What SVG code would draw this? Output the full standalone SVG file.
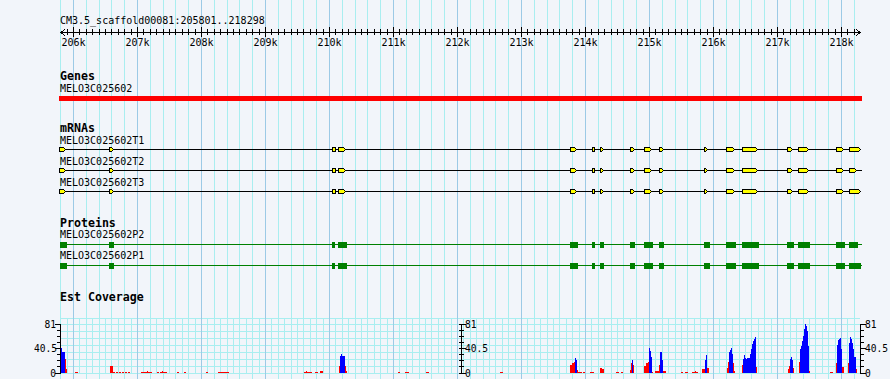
<svg xmlns="http://www.w3.org/2000/svg" width="890" height="379" viewBox="0 0 890 379">
<style>
.gmin{stroke:#a9eef0;stroke-width:1;fill:none;shape-rendering:crispEdges}
.gmaj{stroke:#9ccae6;stroke-width:1;fill:none;shape-rendering:crispEdges}
.ink{stroke:#000;stroke-width:1;fill:none;shape-rendering:crispEdges}
.t{font-family:"DejaVu Sans Mono","Liberation Mono",monospace;font-size:10px;fill:#000}
.h{font-family:"DejaVu Sans Mono","Liberation Mono",monospace;font-size:11.6px;font-weight:bold;fill:#000}
.ax{font-family:"DejaVu Sans Mono","Liberation Mono",monospace;font-size:9.6px;fill:#000}
.exon{fill:#ffff00;stroke:#000;stroke-width:1;shape-rendering:crispEdges}
.tline{stroke:#000;stroke-width:1;shape-rendering:crispEdges}
.pline{stroke:#008000;stroke-width:1;shape-rendering:crispEdges}
.cds{fill:#008000;shape-rendering:crispEdges}
.red{fill:#ff0000;shape-rendering:crispEdges}
.blue{fill:#0000ff;shape-rendering:crispEdges}
</style>
<rect width="890" height="379" fill="#f2f5fa"/>
<g id="grid">
<path class="gmin" d="M60.5 0V379M86.5 0V379M99.5 0V379M111.5 0V379M124.5 0V379M150.5 0V379M163.5 0V379M175.5 0V379M188.5 0V379M214.5 0V379M227.5 0V379M239.5 0V379M252.5 0V379M278.5 0V379M291.5 0V379M303.5 0V379M316.5 0V379M342.5 0V379M355.5 0V379M367.5 0V379M380.5 0V379M406.5 0V379M419.5 0V379M431.5 0V379M444.5 0V379M470.5 0V379M483.5 0V379M495.5 0V379M508.5 0V379M534.5 0V379M547.5 0V379M559.5 0V379M572.5 0V379M598.5 0V379M611.5 0V379M623.5 0V379M636.5 0V379M662.5 0V379M675.5 0V379M687.5 0V379M700.5 0V379M726.5 0V379M739.5 0V379M751.5 0V379M764.5 0V379M790.5 0V379M803.5 0V379M815.5 0V379M828.5 0V379M854.5 0V379"/>
<path class="gmin" d="M67.5 318V373M79.5 318V373M92.5 318V373M105.5 318V373M118.5 318V373M131.5 318V373M143.5 318V373M156.5 318V373M169.5 318V373M182.5 318V373M195.5 318V373M207.5 318V373M220.5 318V373M233.5 318V373M246.5 318V373M259.5 318V373M271.5 318V373M284.5 318V373M297.5 318V373M310.5 318V373M323.5 318V373M335.5 318V373M348.5 318V373M361.5 318V373M374.5 318V373M387.5 318V373M399.5 318V373M412.5 318V373M425.5 318V373M438.5 318V373M451.5 318V373M463.5 318V373M476.5 318V373M489.5 318V373M502.5 318V373M515.5 318V373M527.5 318V373M540.5 318V373M553.5 318V373M566.5 318V373M579.5 318V373M591.5 318V373M604.5 318V373M617.5 318V373M630.5 318V373M643.5 318V373M655.5 318V373M668.5 318V373M681.5 318V373M694.5 318V373M707.5 318V373M719.5 318V373M732.5 318V373M745.5 318V373M758.5 318V373M771.5 318V373M783.5 318V373M796.5 318V373M809.5 318V373M822.5 318V373M835.5 318V373M847.5 318V373"/>
<path class="gmin" d="M60 318.5H860M60 324.5H860M60 331.5H860M60 338.5H860M60 345.5H860M60 352.5H860M60 359.5H860M60 366.5H860M60 373.5H860"/>
<path class="gmaj" d="M73.5 0V379M137.5 0V379M201.5 0V379M265.5 0V379M329.5 0V379M393.5 0V379M457.5 0V379M521.5 0V379M585.5 0V379M649.5 0V379M713.5 0V379M777.5 0V379M841.5 0V379"/>
</g>
<g id="ruler">
<text class="t" x="60" y="24">CM3.5_scaffold00081:205801..218298</text>
<path class="ink" d="M60 32.5H860M65 29.5L60.5 32.5L65 35.5M856 29.5L860.5 32.5L856 35.5"/>
<path class="ink" d="M67.5 29v6M73.5 29v6M79.5 29v6M86.5 29v6M92.5 29v6M99.5 29v6M105.5 29v6M111.5 29v6M118.5 29v6M124.5 29v6M131.5 29v6M137.5 29v6M143.5 29v6M150.5 29v6M156.5 29v6M163.5 29v6M169.5 29v6M175.5 29v6M182.5 29v6M188.5 29v6M195.5 29v6M201.5 29v6M207.5 29v6M214.5 29v6M220.5 29v6M227.5 29v6M233.5 29v6M239.5 29v6M246.5 29v6M252.5 29v6M259.5 29v6M265.5 29v6M271.5 29v6M278.5 29v6M284.5 29v6M291.5 29v6M297.5 29v6M303.5 29v6M310.5 29v6M316.5 29v6M323.5 29v6M329.5 29v6M335.5 29v6M342.5 29v6M348.5 29v6M355.5 29v6M361.5 29v6M367.5 29v6M374.5 29v6M380.5 29v6M387.5 29v6M393.5 29v6M399.5 29v6M406.5 29v6M412.5 29v6M419.5 29v6M425.5 29v6M431.5 29v6M438.5 29v6M444.5 29v6M451.5 29v6M457.5 29v6M463.5 29v6M470.5 29v6M476.5 29v6M483.5 29v6M489.5 29v6M495.5 29v6M502.5 29v6M508.5 29v6M515.5 29v6M521.5 29v6M527.5 29v6M534.5 29v6M540.5 29v6M547.5 29v6M553.5 29v6M559.5 29v6M566.5 29v6M572.5 29v6M579.5 29v6M585.5 29v6M591.5 29v6M598.5 29v6M604.5 29v6M611.5 29v6M617.5 29v6M623.5 29v6M630.5 29v6M636.5 29v6M643.5 29v6M649.5 29v6M655.5 29v6M662.5 29v6M668.5 29v6M675.5 29v6M681.5 29v6M687.5 29v6M694.5 29v6M700.5 29v6M707.5 29v6M713.5 29v6M719.5 29v6M726.5 29v6M732.5 29v6M739.5 29v6M745.5 29v6M751.5 29v6M758.5 29v6M764.5 29v6M771.5 29v6M777.5 29v6M783.5 29v6M790.5 29v6M796.5 29v6M803.5 29v6M809.5 29v6M815.5 29v6M822.5 29v6M828.5 29v6M835.5 29v6M841.5 29v6M847.5 29v6M854.5 29v6"/>
<path class="ink" d="M73.5 27v10M137.5 27v10M201.5 27v10M265.5 27v10M329.5 27v10M393.5 27v10M457.5 27v10M521.5 27v10M585.5 27v10M649.5 27v10M713.5 27v10M777.5 27v10M841.5 27v10"/>
<g class="t" text-anchor="middle">
<text x="73.5" y="46">206k</text><text x="137.5" y="46">207k</text><text x="201.5" y="46">208k</text><text x="265.5" y="46">209k</text><text x="329.5" y="46">210k</text><text x="393.5" y="46">211k</text><text x="457.5" y="46">212k</text><text x="521.5" y="46">213k</text><text x="585.5" y="46">214k</text><text x="649.5" y="46">215k</text><text x="713.5" y="46">216k</text><text x="777.5" y="46">217k</text><text x="841.5" y="46">218k</text>
</g>
</g>
<g id="genes">
<text class="h" x="60" y="80">Genes</text>
<text class="t" x="60" y="92.3">MELO3C025602</text>
<rect x="59" y="96" width="803" height="5" fill="#ff0000"/>
</g>
<text class="h" x="60" y="132.3">mRNAs</text>
<g id="T1">
<text class="t" x="60" y="144.3">MELO3C025602T1</text>
<line class="tline" x1="59" y1="149.5" x2="861" y2="149.5"/>
<path class="exon" d="M59.5 147.5H63.5L65.5 149.5L63.5 151.5H59.5ZM109.5 147.5H111.5L113.5 149.5L111.5 151.5H109.5ZM332.5 147.5H335.5V151.5H332.5ZM338.5 147.5H343.5L345.5 149.5L343.5 151.5H338.5ZM570.5 147.5H574.5L576.5 149.5L574.5 151.5H570.5ZM592.5 147.5H594.5V151.5H592.5ZM600.5 147.5H601.5L603.5 149.5L601.5 151.5H600.5ZM630.5 147.5H632.5L634.5 149.5L632.5 151.5H630.5ZM644.5 147.5H649.5L651.5 149.5L649.5 151.5H644.5ZM659.5 147.5H661.5L663.5 149.5L661.5 151.5H659.5ZM704.5 147.5H705.5L707.5 149.5L705.5 151.5H704.5ZM726.5 147.5H732.5L734.5 149.5L732.5 151.5H726.5ZM742.5 147.5H755.5L757.5 149.5L755.5 151.5H742.5ZM787.5 147.5H790.5L792.5 149.5L790.5 151.5H787.5ZM798.5 147.5H806.5L808.5 149.5L806.5 151.5H798.5ZM836.5 147.5H841.5L843.5 149.5L841.5 151.5H836.5ZM849.5 147.5H858.5L860.5 149.5L858.5 151.5H849.5Z"/>
</g>
<g id="T2" transform="translate(0,21)">
<text class="t" x="60" y="144">MELO3C025602T2</text>
<line class="tline" x1="59" y1="149.5" x2="862" y2="149.5"/>
<path class="exon" d="M59.5 147.5H63.5L65.5 149.5L63.5 151.5H59.5ZM109.5 147.5H111.5L113.5 149.5L111.5 151.5H109.5ZM332.5 147.5H335.5V151.5H332.5ZM338.5 147.5H343.5L345.5 149.5L343.5 151.5H338.5ZM570.5 147.5H574.5L576.5 149.5L574.5 151.5H570.5ZM592.5 147.5H594.5V151.5H592.5ZM600.5 147.5H601.5L603.5 149.5L601.5 151.5H600.5ZM630.5 147.5H632.5L634.5 149.5L632.5 151.5H630.5ZM644.5 147.5H649.5L651.5 149.5L649.5 151.5H644.5ZM659.5 147.5H661.5L663.5 149.5L661.5 151.5H659.5ZM704.5 147.5H705.5L707.5 149.5L705.5 151.5H704.5ZM726.5 147.5H732.5L734.5 149.5L732.5 151.5H726.5ZM742.5 147.5H755.5L757.5 149.5L755.5 151.5H742.5ZM787.5 147.5H790.5L792.5 149.5L790.5 151.5H787.5ZM798.5 147.5H806.5L808.5 149.5L806.5 151.5H798.5ZM836.5 147.5H841.5L843.5 149.5L841.5 151.5H836.5ZM849.5 147.5H854.5L856.5 149.5L854.5 151.5H849.5Z"/>
</g>
<g id="T3" transform="translate(0,42)">
<text class="t" x="60" y="144">MELO3C025602T3</text>
<line class="tline" x1="59" y1="149.5" x2="861" y2="149.5"/>
<path class="exon" d="M59.5 147.5H63.5L65.5 149.5L63.5 151.5H59.5ZM109.5 147.5H111.5L113.5 149.5L111.5 151.5H109.5ZM332.5 147.5H335.5V151.5H332.5ZM338.5 147.5H343.5L345.5 149.5L343.5 151.5H338.5ZM570.5 147.5H574.5L576.5 149.5L574.5 151.5H570.5ZM592.5 147.5H594.5V151.5H592.5ZM600.5 147.5H601.5L603.5 149.5L601.5 151.5H600.5ZM630.5 147.5H632.5L634.5 149.5L632.5 151.5H630.5ZM644.5 147.5H649.5L651.5 149.5L649.5 151.5H644.5ZM659.5 147.5H661.5L663.5 149.5L661.5 151.5H659.5ZM704.5 147.5H705.5L707.5 149.5L705.5 151.5H704.5ZM726.5 147.5H732.5L734.5 149.5L732.5 151.5H726.5ZM742.5 147.5H755.5L757.5 149.5L755.5 151.5H742.5ZM787.5 147.5H790.5L792.5 149.5L790.5 151.5H787.5ZM798.5 147.5H806.5L808.5 149.5L806.5 151.5H798.5ZM836.5 147.5H841.5L843.5 149.5L841.5 151.5H836.5ZM849.5 147.5H858.5L860.5 149.5L858.5 151.5H849.5Z"/>
</g>
<text class="h" x="60" y="226.7">Proteins</text>
<g id="P2">
<text class="t" x="60" y="238.3">MELO3C025602P2</text>
<line class="pline" x1="60" y1="244.5" x2="862" y2="244.5"/>
<path class="cds" d="M60 242h7v6h-7zM109 242h5v6h-5zM332 242h3v6h-3zM338 242h9v6h-9zM570 242h8v6h-8zM592 242h3v6h-3zM600 242h4v6h-4zM630 242h5v6h-5zM644 242h9v6h-9zM659 242h5v6h-5zM704 242h6v6h-6zM726 242h10v6h-10zM742 242h17v6h-17zM787 242h7v6h-7zM798 242h12v6h-12zM836 242h9v6h-9zM849 242h9v6h-9z"/>
</g>
<g id="P1">
<text class="t" x="60" y="259.3">MELO3C025602P1</text>
<line class="pline" x1="60" y1="265.5" x2="862" y2="265.5"/>
<path class="cds" d="M60 263h7v6h-7zM109 263h5v6h-5zM332 263h3v6h-3zM338 263h9v6h-9zM570 263h8v6h-8zM592 263h3v6h-3zM600 263h4v6h-4zM630 263h5v6h-5zM644 263h9v6h-9zM659 263h5v6h-5zM704 263h6v6h-6zM726 263h10v6h-10zM742 263h17v6h-17zM787 263h7v6h-7zM798 263h12v6h-12zM836 263h9v6h-9zM849 263h12v6h-12z"/>
</g>
<g id="coverage">
<text class="h" x="60" y="300.5">Est Coverage</text>
<path class="red" d="M65 359h1v14h-1zM66 369h1v4h-1zM75 372h3v1h-3zM110 366h3v7h-3zM113 372h2v1h-2zM116 372h2v1h-2zM119 372h2v1h-2zM122 372h2v1h-2zM125 372h2v1h-2zM128 372h2v1h-2zM141 372h11v1h-11zM147 371h1v2h-1zM157 372h2v1h-2zM160 372h7v1h-7zM162 371h1v2h-1zM177 372h2v1h-2zM184 372h2v1h-2zM206 372h2v1h-2zM218 372h11v1h-11zM304 372h8v1h-8zM306 371h1v2h-1zM315 372h3v1h-3zM320 371h3v2h-3zM339 366h7v7h-7zM345 371h2v2h-2zM398 372h2v1h-2zM405 372h4v1h-4zM426 372h3v1h-3zM500 372h3v1h-3zM570 365h2v8h-2zM572 363h2v10h-2zM574 362h1v11h-1zM577 370h1v3h-1zM578 372h4v1h-4zM583 372h2v1h-2zM590 372h4v1h-4zM600 368h2v5h-2zM602 369h2v4h-2zM616 372h3v1h-3zM621 372h2v1h-2zM630 370h1v3h-1zM631 363h1v10h-1zM633 365h1v8h-1zM644 366h2v7h-2zM646 363h2v10h-2zM648 362h1v11h-1zM652 372h1v1h-1zM655 371h4v2h-4zM659 365h1v8h-1zM663 371h3v2h-3zM681 372h2v1h-2zM685 372h3v1h-3zM692 372h6v1h-6zM695 371h1v2h-1zM702 369h3v4h-3zM707 368h2v5h-2zM727 368h1v5h-1zM728 362h1v11h-1zM733 363h1v10h-1zM734 371h1v2h-1zM742 365h1v8h-1zM756 367h1v6h-1zM788 369h1v4h-1zM789 366h1v7h-1zM793 368h1v5h-1zM799 362h1v11h-1zM809 371h1v2h-1zM830 372h3v1h-3zM836 363h1v10h-1zM842 367h2v6h-2zM848 363h1v10h-1zM856 369h1v4h-1z"/>
<path class="blue" d="M60 352h5v21h-5zM61 348h1v4h-1zM340 356h5v17h-5zM341 354h1v2h-1zM575 358h1v15h-1zM576 360h1v13h-1zM632 360h1v13h-1zM649 348h1v25h-1zM650 351h1v22h-1zM651 357h1v16h-1zM660 352h2v21h-2zM662 360h1v13h-1zM705 360h1v13h-1zM706 355h1v18h-1zM729 352h1v21h-1zM730 350h1v23h-1zM731 348h1v25h-1zM732 354h1v19h-1zM743 359h1v14h-1zM744 355h1v18h-1zM745 358h1v15h-1zM746 359h1v14h-1zM747 358h2v15h-2zM749 358h1v15h-1zM750 354h1v19h-1zM751 349h1v24h-1zM752 344h1v29h-1zM753 341h1v32h-1zM754 339h1v34h-1zM755 337h1v36h-1zM790 359h1v14h-1zM791 357h1v16h-1zM792 360h1v13h-1zM800 349h1v24h-1zM801 346h1v27h-1zM802 341h1v32h-1zM803 336h1v37h-1zM804 329h1v44h-1zM805 324h1v49h-1zM806 326h1v47h-1zM807 331h1v42h-1zM808 346h1v27h-1zM837 345h1v28h-1zM838 340h1v33h-1zM839 339h1v34h-1zM840 338h1v35h-1zM841 349h1v24h-1zM849 343h1v30h-1zM850 337h1v36h-1zM851 339h1v34h-1zM852 343h1v30h-1zM853 349h1v24h-1zM854 357h2v16h-2z"/>
<path class="ink" d="M60.5 324V374M57 330.5H60M57 336.5H60M57 342.5H60M57 354.5H60M57 360.5H60M57 366.5H60M55 324.5H60M55 348.5H60M55 373.5H60"/>
<path class="ink" d="M461.5 324V374M459 330.5H464M459 336.5H464M459 342.5H464M459 354.5H464M459 360.5H464M459 366.5H464M459 324.5H466M459 348.5H466M459 373.5H466"/>
<path class="ink" d="M860.5 324V374M861 330.5H864M861 336.5H864M861 342.5H864M861 354.5H864M861 360.5H864M861 366.5H864M861 324.5H866M861 348.5H866M861 373.5H866"/>
<g class="ax" text-anchor="end">
<text x="56" y="327.8">81</text><text x="57" y="352">40.5</text><text x="56" y="376.5">0</text>
</g>
<g class="ax">
<text x="465" y="327.8">81</text><text x="465" y="352">40.5</text><text x="465" y="376.5">0</text>
<text x="865" y="327.8">81</text><text x="865" y="352">40.5</text><text x="865" y="376.5">0</text>
</g>
</g>
</svg>
